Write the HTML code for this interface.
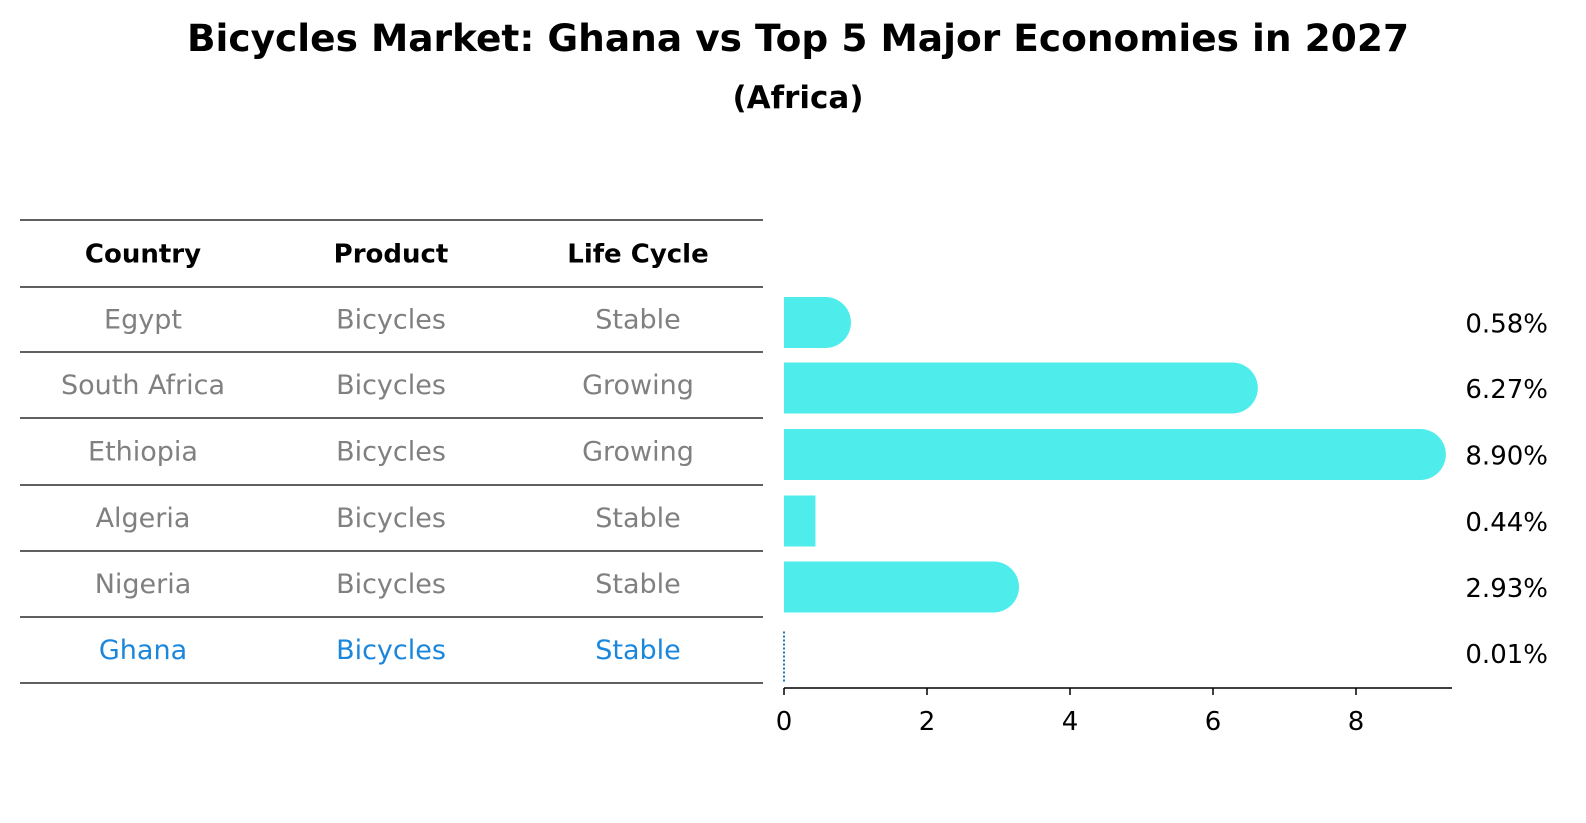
<!DOCTYPE html>
<html><head><meta charset="utf-8"><style>
body{margin:0;background:#fff;}
svg{display:block;font-family:"DejaVu Sans","Liberation Sans",sans-serif;}
</style></head><body>
<svg id="c" width="1586" height="823" viewBox="0 0 1586 823">
<text x="798" y="51" text-anchor="middle" font-size="37.5" font-weight="bold">Bicycles Market: Ghana vs Top 5 Major Economies in 2027</text>
<text x="798" y="108" text-anchor="middle" font-size="31" font-weight="bold">(Africa)</text>
<g id="tbl"></g>
<g id="bars"></g>
</svg>
<script>
const countries=["Egypt","South Africa","Ethiopia","Algeria","Nigeria","Ghana"];
const products=["Bicycles","Bicycles","Bicycles","Bicycles","Bicycles","Bicycles"];
const lifeCycles=["Stable","Growing","Growing","Stable","Stable","Stable"];
const values=[0.58,6.27,8.90,0.44,2.93,0.01];
const valueLabels=["0.58%","6.27%","8.90%","0.44%","2.93%","0.01%"];
const ticks=[0,2,4,6,8];
const NS="http://www.w3.org/2000/svg";
function mk(t,a,p){const e=document.createElementNS(NS,t);for(const k in a)e.setAttribute(k,a[k]);p.appendChild(e);return e;}
const tbl=document.getElementById('tbl'),bars=document.getElementById('bars');
const lineYs=[220,287,352,418,485,551,617,683];
const colX=[143,391,638];
function rowMid(i){return (lineYs[i+1]+lineYs[i+2])/2;}
lineYs.forEach((y,i)=>{const l=mk('line',{x1:20,x2:763,y1:y,y2:y,stroke:'#000','stroke-width':1.2},tbl);

});
["Country","Product","Life Cycle"].forEach((h,j)=>{const t=mk('text',{x:colX[j],y:(lineYs[0]+lineYs[1])/2+9,'text-anchor':'middle','font-size':26,'font-weight':'bold'},tbl);t.textContent=h;

});
countries.forEach((c,i)=>{const col=c==="Ghana"?'#1a86dc':'#808080';
[c,products[i],lifeCycles[i]].forEach((v,j)=>{const t=mk('text',{x:colX[j],y:rowMid(i)+9,'text-anchor':'middle','font-size':27,fill:col},tbl);t.textContent=v;

});});
const x0=784,scale=71.5;
function xs(v){return x0+v*scale;}
const bh=51,r=25.5;
countries.forEach((c,i)=>{const cy=rowMid(i)+3;const top=cy-bh/2;const xe=xs(values[i]);
let el;
if(values[i]<0.05){el=mk('line',{x1:x0,x2:x0,y1:top+4,y2:top+bh+4,stroke:'#1f77b4','stroke-width':2,'stroke-dasharray':'2,2'},bars);}
else if(values[i]<0.5){el=mk('rect',{x:x0,y:top,width:xe-x0,height:bh,fill:'#4eeceb'},bars);}
else{el=mk('path',{d:`M${x0},${top}H${xe}A${r},${r} 0 0 1 ${xe},${top+bh}H${x0}Z`,fill:'#4eeceb'},bars);}


const t=mk('text',{x:1548,y:cy+10,'text-anchor':'end','font-size':26},bars);t.textContent=valueLabels[i];

});
const ax=mk('line',{x1:x0,x2:1452,y1:688,y2:688,stroke:'#000','stroke-width':1.5},bars);


ticks.forEach(v=>{const l=mk('line',{x1:xs(v),x2:xs(v),y1:688,y2:695,stroke:'#000','stroke-width':1.5},bars);


const t=mk('text',{x:xs(v),y:730,'text-anchor':'middle','font-size':26},bars);t.textContent=v;

});
</script>
</body></html>
